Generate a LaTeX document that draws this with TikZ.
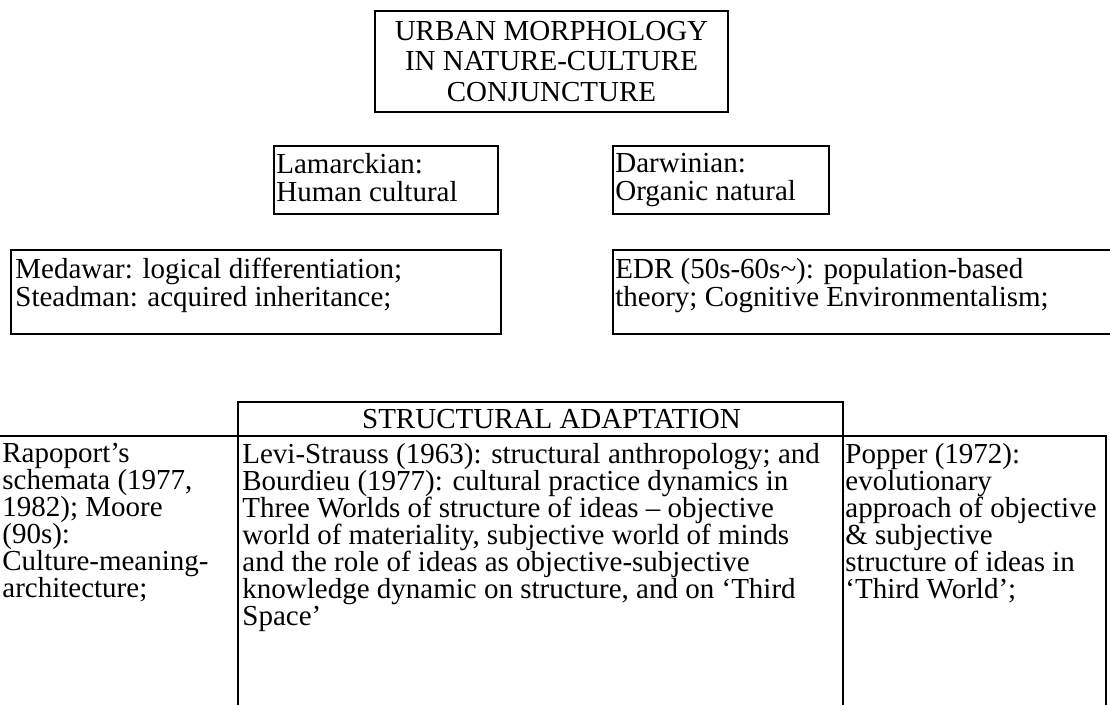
\documentclass[tikz,border=0pt]{standalone}
\usepackage{fontspec}
\setmainfont{Liberation Serif}
\usetikzlibrary{positioning}
\AtBeginDocument{\setlength{\lineskiplimit}{-20pt}}

\begin{document}
\begin{tikzpicture}[x=0.5pt, y=-0.5pt,
  frame/.style={draw, line width=1pt, inner sep=0pt, anchor=north west},
  txt/.style={inner sep=0pt, align=left, font=\fontsize{14.5}{14}\selectfont},
  cell/.style={inner sep=0pt, align=left, font=\fontsize{14.5}{13.5}\selectfont}
]
  \useasboundingbox (0,0) rectangle (1110,705);

  % heading
  \node[frame, minimum width=176.5pt, minimum height=50.5pt, align=center,
        font=\fontsize{14.5}{15.3}\selectfont] (title) at (374,10)
        {URBAN MORPHOLOGY\\IN NATURE-CULTURE\\CONJUNCTURE};

  % the two views
  \node[frame, minimum width=112pt, minimum height=34pt] (lamarck) at (273,145) {};
  \node[frame, minimum width=108pt, minimum height=34pt] (darwin)  at (612,145) {};
  \node[txt, below right=4pt and 1.5pt of lamarck.north west] (lamarckText) {Lamarckian:\\Human cultural};
  \node[txt, below right=4pt and 1.5pt of darwin.north west]  (darwinText)  {Darwinian:\\Organic natural};

  \node[frame, minimum width=245pt, minimum height=42pt] (medawar) at (10,249) {};
  \node[frame, minimum width=254pt, minimum height=42pt] (edr)     at (612,249) {};
  \node[txt, below right=4.5pt and 2.5pt of medawar.north west] (medawarText)
       {Medawar: logical differentiation;\\Steadman: acquired inheritance;};
  \node[txt, below right=4.5pt and 1.5pt of edr.north west] (edrText)
       {EDR (50s-60s\textasciitilde): population-based\\theory; Cognitive Environmentalism;};

  % table
  \node[frame, minimum width=302.5pt, minimum height=17pt] (head) at (237,401) {};
  \node[inner sep=0pt, font=\fontsize{14.5}{14}\selectfont, xshift=5.5pt] (headText) at (head.center)
       {STRUCTURAL ADAPTATION};
  \node[frame, minimum width=123.5pt, minimum height=137.5pt] (colLeft)  at (-10,435) {};
  \node[frame, minimum width=302.5pt, minimum height=137.5pt] (colMid)   at (237,435) {};
  \node[frame, minimum width=131.5pt, minimum height=137.5pt] (colRight) at (842,435) {};

  \node[cell, below right=4pt and 6pt of colLeft.north west] (leftText)
       {Rapoport’s\\schemata (1977,\\1982); Moore\\(90s):\\Culture-meaning-\\architecture;};
  \node[cell, below right=4pt and 2.5pt of colMid.north west] (midText)
       {Levi-Strauss (1963): structural anthropology; and\\
        Bourdieu (1977): cultural practice dynamics in\\
        Three Worlds of structure of ideas – objective\\
        world of materiality, subjective world of minds\\
        and the role of ideas as objective-subjective\\
        knowledge dynamic on structure, and on ‘Third\\
        Space’};
  \node[cell, below right=4pt and 1.5pt of colRight.north west] (rightText)
       {Popper (1972):\\evolutionary\\approach of objective\\\& subjective\\structure of ideas in\\‘Third World’;};
\end{tikzpicture}
\end{document}
